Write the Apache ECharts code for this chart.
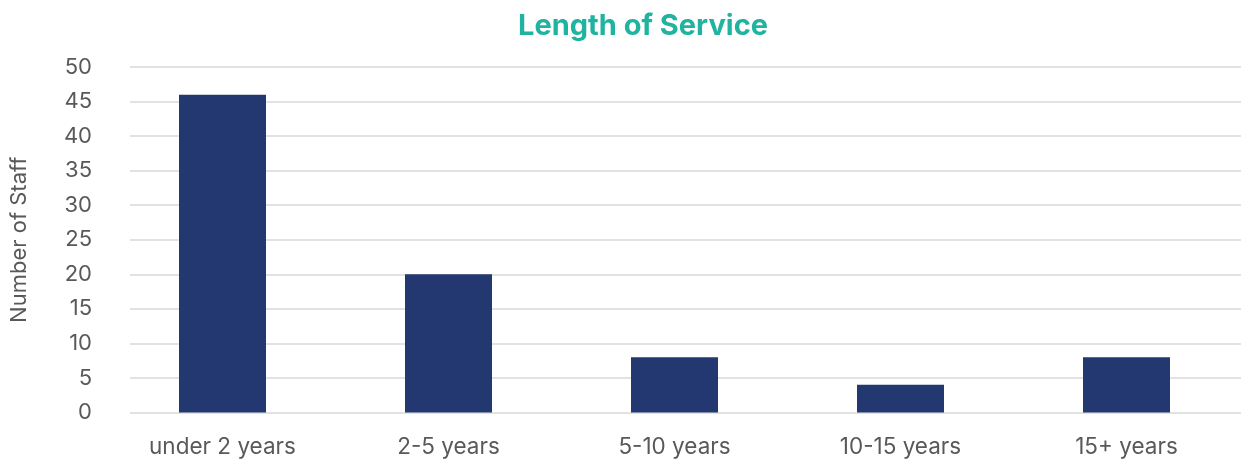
<!DOCTYPE html>
<html>
<head>
<meta charset="utf-8">
<script src="https://cdn.jsdelivr.net/npm/echarts@6/dist/echarts.min.js"></script>
<style>
  html, body { margin: 0; padding: 0; background: #fff; }
  #chart { width: 1244px; height: 461px; }
</style>
</head>
<body>
<div id="chart"></div>
<script>
// Staff counts by length of service
const categories = ['under 2 years', '2-5 years', '5-10 years', '10-15 years', '15+ years'];
const staffCounts = [46, 20, 8, 4, 8];
const yTicks = [0, 5, 10, 15, 20, 25, 30, 35, 40, 45, 50];

const labelColor = '#595959';
const fontFamily = 'Inter, Roboto, "Noto Sans", sans-serif';

const chart = echarts.init(document.getElementById('chart'), null, { renderer: 'canvas' });

chart.setOption({
  animation: false,
  backgroundColor: '#ffffff',
  title: {
    text: 'Length of Service',
    left: 513,
    top: 7,
    textStyle: { color: '#1fb3a0', fontSize: 29, fontWeight: 'bold', fontFamily: fontFamily }
  },
  grid: [
    // value grid: gridlines and tick labels
    { left: 128, right: 3, top: 67, bottom: 48.5, containLabel: false },
    // category grid: bars and category labels
    { left: 109.5, right: 4.5, top: 67, bottom: 48.5, containLabel: false }
  ],
  xAxis: [
    { gridIndex: 0, type: 'category', data: categories, show: false },
    {
      gridIndex: 1,
      type: 'category',
      data: categories,
      axisLine: { show: false },
      axisTick: { show: false },
      axisLabel: { color: labelColor, fontSize: 22.5, fontFamily: fontFamily, margin: 23 }
    }
  ],
  yAxis: [
    {
      gridIndex: 0,
      type: 'value',
      min: yTicks[0],
      max: yTicks[yTicks.length - 1],
      interval: 5,
      name: 'Number of Staff',
      nameLocation: 'middle',
      nameGap: 100,
      nameRotate: 90,
      nameTextStyle: { color: labelColor, fontSize: 22, fontFamily: fontFamily },
      axisLine: { show: false },
      axisTick: { show: false },
      axisLabel: { color: labelColor, fontSize: 22, fontFamily: fontFamily, margin: 38 },
      splitLine: { lineStyle: { color: '#d9d9d9', width: 1.5 } }
    },
    {
      gridIndex: 1,
      type: 'value',
      min: yTicks[0],
      max: yTicks[yTicks.length - 1],
      interval: 5,
      show: false,
      splitLine: { show: false }
    }
  ],
  series: [
    {
      type: 'bar',
      xAxisIndex: 1,
      yAxisIndex: 1,
      data: staffCounts,
      barWidth: 87,
      itemStyle: { color: '#233870' }
    }
  ]
});
</script>
</body>
</html>
